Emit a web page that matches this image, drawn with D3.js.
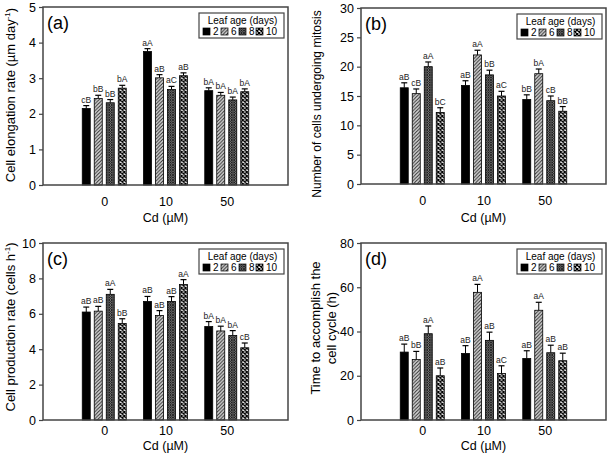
<!DOCTYPE html>
<html>
<head>
<meta charset="utf-8">
<script src="https://cdn.jsdelivr.net/npm/d3@7"></script>
<style>
  html, body { margin: 0; padding: 0; background: #fff; }
  svg { display: block; font-family: "Liberation Sans", Arial, sans-serif; }
</style>
</head>
<body>
<svg id="chart" width="609" height="460"></svg>
<script>
// ---------------- DATA ----------------
const categories = ["0", "10", "50"];            // Cd (µM)
const leafAges = ["2", "6", "8", "10"];           // Leaf age (days)

// (a) Cell elongation rate
const elongMeans = [[2.15, 2.43, 2.31, 2.72], [3.75, 3.01, 2.68, 3.07], [2.65, 2.52, 2.39, 2.62]];
const elongErr   = [[0.08, 0.09, 0.09, 0.08], [0.08, 0.09, 0.09, 0.08], [0.08, 0.08, 0.08, 0.08]];
const elongLetters = [["cB", "bB", "bB", "bA"], ["aA", "aB", "aC", "aB"], ["bA", "bA", "bA", "bA"]];
const elongTicks = [0, 1, 2, 3, 4, 5];

// (b) Number of cells undergoing mitosis
const mitosisMeans = [[16.4, 15.4, 20.0, 12.2], [16.8, 22.0, 18.6, 15.0], [14.4, 18.8, 14.2, 12.4]];
const mitosisErr   = [[0.85, 0.8, 0.8, 0.8], [0.8, 0.8, 0.8, 0.8], [0.8, 0.8, 0.8, 0.8]];
const mitosisLetters = [["aB", "cB", "aA", "bC"], ["aB", "aA", "bB", "aC"], ["bB", "bA", "cB", "bB"]];
const mitosisTicks = [0, 5, 10, 15, 20, 25, 30];

// (c) Cell production rate
const prodMeans = [[6.1, 6.15, 7.1, 5.45], [6.7, 5.9, 6.7, 7.65], [5.28, 5.03, 4.78, 4.08]];
const prodErr   = [[0.28, 0.27, 0.28, 0.27], [0.28, 0.28, 0.27, 0.28], [0.28, 0.27, 0.27, 0.27]];
const prodLetters = [["aB", "aB", "aA", "bB"], ["aB", "aB", "aB", "aA"], ["bA", "bA", "bA", "cB"]];
const prodTicks = [0, 2, 4, 6, 8, 10];

// (d) Time to accomplish the cell cycle
const cycleMeans = [[30.7, 27.3, 39.0, 20.0], [30.1, 57.7, 36.0, 21.0], [27.8, 49.6, 30.4, 26.8]];
const cycleErr   = [[3.6, 3.7, 3.5, 3.5], [3.5, 3.6, 3.7, 3.5], [3.5, 3.6, 3.4, 3.4]];
const cycleLetters = [["aB", "bB", "aA", "aB"], ["aB", "aA", "aB", "aC"], ["aB", "aA", "aB", "aB"]];
const cycleTicks = [0, 20, 40, 60, 80];

// ---------------- DRAWING ----------------
const svg = d3.select("#chart");
const defs = svg.append("defs");

// fill patterns
const p6 = defs.append("pattern").attr("id", "pat6").attr("patternUnits", "userSpaceOnUse")
  .attr("width", 3.5).attr("height", 3.5);
p6.append("rect").attr("width", 3.5).attr("height", 3.5).attr("fill", "#d6d6d6");
p6.append("path").attr("d", "M-1,1 L1,-1 M0,3.5 L3.5,0 M2.5,4.5 L4.5,2.5")
  .attr("stroke", "#222").attr("stroke-width", 0.9);

const p8 = defs.append("pattern").attr("id", "pat8").attr("patternUnits", "userSpaceOnUse")
  .attr("width", 2.5).attr("height", 2.5);
p8.append("rect").attr("width", 2.5).attr("height", 2.5).attr("fill", "#777");
p8.append("path").attr("d", "M0,0 L2.5,2.5 M2.5,0 L0,2.5")
  .attr("stroke", "#1a1a1a").attr("stroke-width", 0.8);

const p10 = defs.append("pattern").attr("id", "pat10").attr("patternUnits", "userSpaceOnUse")
  .attr("width", 4).attr("height", 4);
p10.append("rect").attr("width", 4).attr("height", 4).attr("fill", "#fff");
p10.append("path").attr("d", "M0,0 L4,4 M4,0 L0,4")
  .attr("stroke", "#000").attr("stroke-width", 1.3);

const fills = ["#000", "url(#pat6)", "url(#pat8)", "url(#pat10)"];
const frameColor = "#444";

function drawPanel(cfg) {
  const g = svg.append("g");
  const { x0, x1, y0, y1 } = cfg.box;

  const x = d3.scalePoint().domain(categories).range([x0, x1]).padding(1);
  const xs = d3.scaleBand().domain(leafAges).range([-24, 24]).paddingInner(1 / 3).paddingOuter(1 / 6);
  const y = d3.scaleLinear().domain([cfg.ticks[0], cfg.ticks[cfg.ticks.length - 1]]).range([y1, y0]);

  // y axis ticks
  const ya = g.append("g").attr("transform", `translate(${x0},0)`)
    .call(d3.axisLeft(y).tickValues(cfg.ticks).tickSize(4).tickPadding(3).tickFormat(d3.format("d")));
  ya.select(".domain").remove();
  ya.selectAll("line").attr("stroke", frameColor).attr("stroke-width", 1.2);
  ya.selectAll("text").attr("font-size", 12.5).attr("fill", "#000").attr("font-family", "Liberation Sans, Arial, sans-serif");

  // x axis labels
  const xa = g.append("g").attr("transform", `translate(0,${y1})`)
    .call(d3.axisBottom(x).tickSize(0).tickPadding(cfg.xTickPad));
  xa.select(".domain").remove();
  xa.selectAll("text").attr("font-size", 12.5).attr("fill", "#000").attr("font-family", "Liberation Sans, Arial, sans-serif");

  // bars
  cfg.means.forEach((row, i) => {
    const gg = g.append("g").attr("transform", `translate(${x(categories[i])},0)`);
    row.forEach((v, j) => {
      const bx = xs(leafAges[j]);
      const bw = xs.bandwidth();
      const top = y(v + cfg.err[i][j]);
      gg.append("line").attr("x1", bx + bw / 2).attr("x2", bx + bw / 2)
        .attr("y1", y(v)).attr("y2", top).attr("stroke", "#000").attr("stroke-width", 1);
      gg.append("line").attr("x1", bx + 1).attr("x2", bx + bw - 1)
        .attr("y1", top).attr("y2", top).attr("stroke", "#000").attr("stroke-width", 1.2);
      gg.append("rect").attr("x", bx).attr("y", y(v)).attr("width", bw).attr("height", y1 - y(v))
        .attr("fill", fills[j]).attr("stroke", "#000").attr("stroke-width", 0.8);
      gg.append("text").attr("x", bx + bw / 2).attr("y", top - 3)
        .attr("text-anchor", "middle").attr("font-size", 8.5).attr("fill", "#222")
        .text(cfg.letters[i][j]);
    });
  });

  // frame
  g.append("rect").attr("x", x0).attr("y", y0).attr("width", x1 - x0).attr("height", y1 - y0)
    .attr("fill", "none").attr("stroke", frameColor).attr("stroke-width", 1.5);

  // panel label
  g.append("text").attr("x", x0 + 4).attr("y", y0 + 22).attr("font-size", 18).text(cfg.label);

  // legend
  const lw = 85, lh = 25;
  const lx = x1 - lw - 4, ly = y0 + 6;
  const lg = g.append("g").attr("transform", `translate(${lx},${ly})`);
  lg.append("rect").attr("width", lw).attr("height", lh).attr("fill", "#fff")
    .attr("stroke", frameColor).attr("stroke-width", 1.2);
  lg.append("text").attr("x", lw / 2 + 1).attr("y", 10.5).attr("text-anchor", "middle")
    .attr("font-size", 10).text("Leaf age (days)");
  const itemX = [4, 22, 40, 57];
  leafAges.forEach((a, j) => {
    lg.append("rect").attr("x", itemX[j]).attr("y", 15).attr("width", 7).attr("height", 7)
      .attr("fill", fills[j]).attr("stroke", "#000").attr("stroke-width", 0.7);
    lg.append("text").attr("x", itemX[j] + 10).attr("y", 22).attr("font-size", 10).text(a);
  });

  // x title
  g.append("text").attr("x", (x0 + x1) / 2).attr("y", y1 + cfg.xTitleOff)
    .attr("text-anchor", "middle").attr("font-size", 12.5).text("Cd (µM)");

  // y title
  const yt = g.append("text").attr("transform", `translate(${cfg.yTitleX},${cfg.yTitleY}) rotate(-90)`)
    .attr("text-anchor", "middle").attr("font-size", cfg.yTitleSize || 13);
  cfg.yTitle(yt);
}

drawPanel({
  box: { x0: 43, x1: 288, y0: 7, y1: 185 }, label: "(a)",
  means: elongMeans, err: elongErr, letters: elongLetters, ticks: elongTicks,
  xTickPad: 12, xTitleOff: 37, yTitleX: 15, yTitleY: 95,
  yTitle: t => { t.append("tspan").text("Cell elongation rate (µm day");
    t.append("tspan").attr("dy", -5).attr("font-size", 8).text("-1");
    t.append("tspan").attr("dy", 5).text(")"); }
});
drawPanel({
  box: { x0: 361, x1: 606, y0: 8, y1: 184 }, label: "(b)",
  means: mitosisMeans, err: mitosisErr, letters: mitosisLetters, ticks: mitosisTicks,
  xTickPad: 12, xTitleOff: 38, yTitleX: 321, yTitleY: 104, yTitleSize: 12,
  yTitle: t => t.text("Number of cells undergoing mitosis")
});
drawPanel({
  box: { x0: 43, x1: 288, y0: 243, y1: 420 }, label: "(c)",
  means: prodMeans, err: prodErr, letters: prodLetters, ticks: prodTicks,
  xTickPad: 6, xTitleOff: 30, yTitleX: 15, yTitleY: 327,
  yTitle: t => { t.append("tspan").text("Cell production rate (cells h");
    t.append("tspan").attr("dy", -5).attr("font-size", 8).text("-1");
    t.append("tspan").attr("dy", 5).text(")"); }
});
drawPanel({
  box: { x0: 361, x1: 606, y0: 243, y1: 420 }, label: "(d)",
  means: cycleMeans, err: cycleErr, letters: cycleLetters, ticks: cycleTicks,
  xTickPad: 6, xTitleOff: 30, yTitleX: 320, yTitleY: 328,
  yTitle: t => { t.append("tspan").attr("x", 0).attr("dy", 0).text("Time to accomplish the");
    t.append("tspan").attr("x", 0).attr("dy", 16).text("cell cycle (h)"); }
});
</script>
</body>
</html>
